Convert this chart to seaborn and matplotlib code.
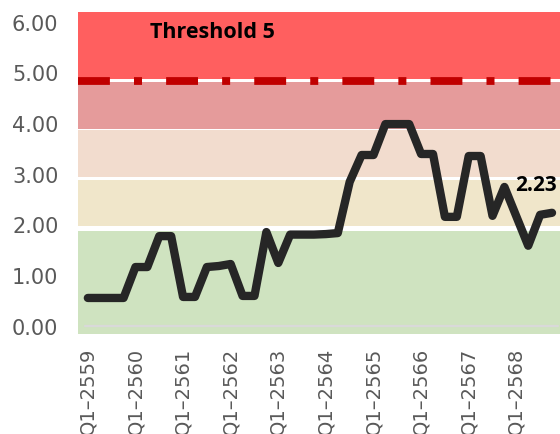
import matplotlib
matplotlib.use("Agg")
import matplotlib.pyplot as plt
import seaborn as sns
import pandas as pd

# Quarterly index, Q1-2559 .. Q4-2568
years = list(range(2559, 2569))
quarters = [f"Q{q}\u2013{y}" for y in years for q in range(1, 5)]
values = [0.55, 0.55, 0.55, 0.55, 1.16, 1.16, 1.77, 1.77, 0.57, 0.57,
          1.16, 1.18, 1.22, 0.59, 0.59, 1.85, 1.24, 1.80, 1.80, 1.80,
          1.81, 1.83, 2.84, 3.37, 3.37, 3.98, 3.98, 3.98, 3.39, 3.39,
          2.15, 2.15, 3.35, 3.35, 2.17, 2.74, 2.16, 1.58, 2.19, 2.23]

# Risk bands (lower, upper, colour)
band_lo = [-0.16, 1.97, 2.94, 3.89, 4.87]
band_hi = [1.87, 2.88, 3.87, 4.81, 6.19]
band_colors = ["#CFE3C0", "#F0E6CA", "#F2DCCE", "#E59B9B", "#FF5F5F"]
threshold = 4.83
threshold_label = "Threshold 5"
y_ticks = [0, 1, 2, 3, 4, 5, 6]

df = pd.DataFrame({"idx": range(len(values)), "quarter": quarters, "value": values})

sns.set_theme(style="white")
plt.rcParams["font.family"] = ["DejaVu Sans"]

fig = plt.figure(figsize=(5.6, 4.35), dpi=100)
ax = fig.add_axes([0.139, 0.230, 0.861, 0.740])

for lo, hi, c in zip(band_lo, band_hi, band_colors):
    ax.axhspan(lo, hi, color=c, lw=0, zorder=0)

ax.axhline(0, xmin=0.015, xmax=0.995, color="#D9D9D9", lw=1.6, zorder=1)

thr = ax.axhline(threshold, color="#C00000", lw=5.6, zorder=2)
thr.set_dashes((4.1, 3.1, 1.03, 3.1))
thr.set_dash_capstyle("butt")

sns.lineplot(data=df, x="idx", y="value", ax=ax, color="#262626", lw=6,
             solid_joinstyle="round", solid_capstyle="round", zorder=3)

ax.text(10.5, 5.8, threshold_label, ha="center", va="center", fontsize=15.5,
        fontweight="bold", color="black", family=["Open Sans", "DejaVu Sans"])

ax.annotate(f"{values[-1]:.2f}", xy=(len(values) - 1, values[-1]),
            xytext=(3.5, 13), textcoords="offset points", ha="right", va="bottom",
            fontsize=15, fontweight="bold", color="black",
            family=["Open Sans", "DejaVu Sans"])

ax.set_xlim(-0.84, 39.67)
ax.set_ylim(-0.16, 6.19)
ax.set_yticks(y_ticks)
ax.set_yticklabels([f"{v:.2f}" for v in y_ticks])
ax.set_xticks(df["idx"][::4])
ax.set_xticklabels(df["quarter"][::4], rotation=90)
ax.tick_params(axis="y", length=0, pad=14, labelsize=15, labelcolor="#595959")
ax.tick_params(axis="x", length=0, pad=9, labelsize=14, labelcolor="#595959")
ax.set_xlabel("")
ax.set_ylabel("")
for s in ax.spines.values():
    s.set_visible(False)

fig.savefig("out.png", dpi=100)
